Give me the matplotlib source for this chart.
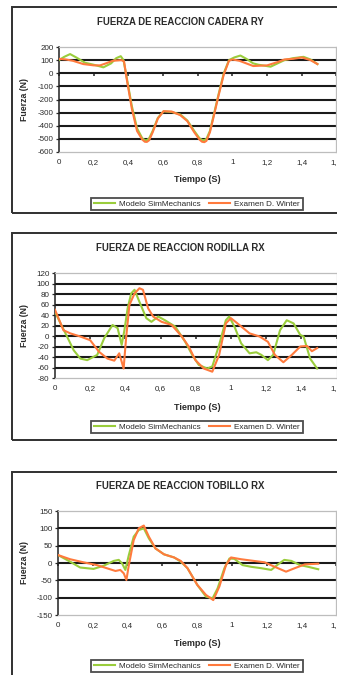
import matplotlib
matplotlib.use("Agg")
import matplotlib.pyplot as plt
from matplotlib.patches import Rectangle

plt.rcParams['font.family'] = ['Liberation Sans', 'DejaVu Sans']

W, H = 337, 675

# ---- datos ----
series_names = ["Modelo SimMechanics", "Examen D. Winter"]
tick_labels_x = ["0", "0,2", "0,4", "0,6", "0,8", "1", "1,2", "1,4", "1,6"]

# cadera RY
cad_t_sim = [0, 0.03, 0.064, 0.1, 0.15, 0.2, 0.256, 0.3, 0.33, 0.356, 0.372, 0.39, 0.42, 0.45,
             0.48, 0.495, 0.507, 0.52, 0.54, 0.57, 0.603, 0.65, 0.7, 0.74, 0.78, 0.81, 0.825,
             0.838, 0.85, 0.87, 0.89, 0.92, 0.95, 0.98, 1.01, 1.046, 1.08, 1.12, 1.15, 1.22,
             1.26, 1.3, 1.35, 1.41, 1.45, 1.49]
cad_sim = [100, 125, 146, 120, 80, 65, 45, 75, 115, 130, 100, -30, -250, -420,
           -495, -510, -510, -495, -440, -340, -290, -295, -315, -360, -440, -495, -508,
           -510, -500, -440, -330, -160, 0, 100, 120, 135, 110, 75, 65, 50,
           75, 100, 115, 125, 105, 70]
cad_t_win = [0, 0.04, 0.08, 0.14, 0.2, 0.237, 0.27, 0.31, 0.36, 0.375, 0.39, 0.42, 0.45,
             0.48, 0.495, 0.507, 0.52, 0.54, 0.57, 0.603, 0.65, 0.7, 0.74, 0.78, 0.81, 0.825,
             0.838, 0.85, 0.87, 0.89, 0.92, 0.95, 0.98, 1.0, 1.04, 1.08, 1.12, 1.2, 1.26,
             1.3, 1.35, 1.4, 1.45, 1.49]
cad_win = [110, 105, 95, 70, 60, 60, 75, 95, 100, 90, -40, -270, -440,
           -505, -522, -523, -510, -450, -345, -289, -292, -320, -365, -450, -505, -522,
           -525, -515, -450, -340, -170, -10, 95, 105, 95, 75, 55, 60, 85,
           105, 110, 120, 100, 70]

# rodilla RX
rod_t_sim = [0, 0.03, 0.067, 0.106, 0.144, 0.183, 0.24, 0.28, 0.327, 0.356, 0.379, 0.394,
             0.413, 0.433, 0.452, 0.48, 0.519, 0.548, 0.587, 0.625, 0.683, 0.74, 0.78, 0.817,
             0.865, 0.894, 0.933, 0.971, 0.99, 1.02, 1.058, 1.106, 1.144, 1.173, 1.21, 1.24,
             1.279, 1.317, 1.356, 1.394, 1.413, 1.45, 1.49]
rod_sim = [46, 25, 0, -27, -43, -46, -36, -4, 21, 15, -17, 10,
           53, 81, 88, 65, 34, 27, 37, 30, 18, -11, -36, -55,
           -62, -58, -17, 30, 37, 18, -14, -33, -31, -36, -46, -36,
           11, 30, 24, 2, -1, -43, -62]
rod_t_win = [0, 0.048, 0.087, 0.144, 0.2, 0.25, 0.298, 0.337, 0.365, 0.379, 0.39, 0.404,
             0.423, 0.452, 0.48, 0.5, 0.529, 0.558, 0.606, 0.663, 0.721, 0.76, 0.798, 0.846,
             0.894, 0.933, 0.971, 1.0, 1.048, 1.106, 1.163, 1.21, 1.25, 1.298, 1.346, 1.394,
             1.433, 1.46, 1.49]
rod_win = [50, 11, 5, -1, -8, -30, -43, -47, -33, -49, -62, -4,
           59, 81, 91, 88, 53, 37, 27, 21, -1, -20, -46, -62,
           -68, -36, 24, 34, 21, 5, -1, -11, -36, -50, -36, -20,
           -19, -29, -23]

# tobillo RX
tob_t_sim = [0, 0.069, 0.127, 0.204, 0.262, 0.32, 0.349, 0.368, 0.387, 0.407, 0.435, 0.464,
             0.493, 0.522, 0.56, 0.609, 0.667, 0.705, 0.744, 0.8, 0.85, 0.888, 0.917, 0.956,
             0.985, 1.013, 1.06, 1.11, 1.168, 1.225, 1.264, 1.3, 1.341, 1.39, 1.437, 1.495]
tob_sim = [23, 4, -13, -17, -8, 6, 9, -1, -20, 23, 76, 95,
           100, 71, 42, 25, 16, 4, -15, -63, -97, -102, -73, -15,
           13, 12, -6, -11, -15, -20, -4, 9, 6, -6, -11, -18]
tob_t_win = [0, 0.069, 0.146, 0.223, 0.28, 0.33, 0.358, 0.378, 0.393, 0.407, 0.435, 0.464,
             0.493, 0.522, 0.56, 0.609, 0.667, 0.705, 0.744, 0.8, 0.85, 0.892, 0.927, 0.965,
             0.994, 1.05, 1.11, 1.187, 1.245, 1.31, 1.36, 1.418, 1.495]
tob_win = [23, 11, 2, -6, -15, -23, -20, -30, -49, -6, 66, 100,
           108, 76, 42, 25, 16, 6, -15, -63, -92, -107, -68, -6,
           16, 11, 7, 2, -11, -25, -15, -4, -2]

panels = [
    dict(title="FUERZA DE REACCION CADERA RY", ylabel="Fuerza (N)",
         t1=cad_t_sim, y1=cad_sim, t2=cad_t_win, y2=cad_win,
         yticks=list(range(-600, 201, 100)),
         box=(12, 7, 206), ax_px=(59, 47, 152), title_y=22, xl_y=180, leg_y=204),
    dict(title="FUERZA DE REACCION RODILLA RX", ylabel="Fuerza (N)",
         t1=rod_t_sim, y1=rod_sim, t2=rod_t_win, y2=rod_win,
         yticks=list(range(-80, 121, 20)),
         box=(12, 233, 207), ax_px=(55, 273, 378), title_y=248, xl_y=407, leg_y=427),
    dict(title="FUERZA DE REACCION TOBILLO RX", ylabel="Fuerza (N)",
         t1=tob_t_sim, y1=tob_sim, t2=tob_t_win, y2=tob_win,
         yticks=list(range(-150, 151, 50)),
         box=(12, 472, 230), ax_px=(58, 511, 615), title_y=486, xl_y=643, leg_y=666),
]

green = "#9acd3c"
orange = "#ff7a3d"
dark = "#2a2a2a"

fig = plt.figure(figsize=(W / 100, H / 100), dpi=100)

for p in panels:
    bx, by, bh = p['box']
    fig.patches.append(Rectangle((bx / W, 1 - (by + bh) / H), 1.2, bh / H,
                                 transform=fig.transFigure, fill=False,
                                 edgecolor="#303030", linewidth=1.4))

    left, top, bottom = p['ax_px']
    right = 336.5
    ax = fig.add_axes([left / W, 1 - bottom / H, (right - left) / W, (bottom - top) / H])
    ax.set_xlim(0, 1.6)
    ax.set_ylim(min(p['yticks']), max(p['yticks']))

    for yv in p['yticks'][1:-1]:
        ax.axhline(yv, color="#1a1a1a", linewidth=1.5, zorder=1)

    ax.plot(p['t1'], p['y1'], color=green, linewidth=1.5, label=series_names[0], zorder=3)
    ax.plot(p['t2'], p['y2'], color=orange, linewidth=1.5, label=series_names[1], zorder=3)

    for s in ['top', 'right', 'bottom']:
        ax.spines[s].set_color("#bdbdbd")
        ax.spines[s].set_linewidth(0.9)
    ax.spines['left'].set_color("#202020")
    ax.spines['left'].set_linewidth(1.1)

    ax.set_yticks(p['yticks'])
    ax.set_yticklabels([str(v) for v in p['yticks']])
    ax.tick_params(axis='y', length=2.5, width=0.9, pad=1.5, labelsize=5.8, colors=dark)
    ax.set_xticks([0.2 * i for i in range(9)])
    ax.set_xticklabels(tick_labels_x)
    ax.tick_params(axis='x', length=0, pad=5, labelsize=5.8, colors=dark)

    # eje x cruzando en 0 (marcas pequenas)
    sec = ax.secondary_xaxis(0, transform=ax.transData)
    sec.set_xticks([0.2 * i for i in range(9)])
    sec.set_xticklabels([])
    sec.tick_params(length=2.5, width=1.1, colors="#202020")
    sec.spines['bottom'].set_visible(False)

    fig.text(180 / W, 1 - p['title_y'] / H, p['title'], ha='center', va='center',
             fontsize=6.9, fontweight='bold', color=dark)
    fig.text(197 / W, 1 - p['xl_y'] / H, "Tiempo (S)", ha='center', va='center',
             fontsize=6.5, fontweight='bold', color=dark)
    fig.text(25 / W, 1 - ((top + bottom) / 2) / H, p['ylabel'], ha='center', va='center',
             rotation=90, fontsize=6.3, fontweight='bold', color=dark)

    leg = fig.legend(handles=ax.get_lines()[-2:], labels=series_names, ncol=2,
                     loc='center', bbox_to_anchor=(197 / W, 1 - p['leg_y'] / H),
                     fontsize=5.9, frameon=True, fancybox=False, handlelength=2.6,
                     handletextpad=0.5, columnspacing=1.0, borderpad=0.3)
    leg.get_frame().set_edgecolor("#202020")
    leg.get_frame().set_linewidth(1.3)
    for txt in leg.get_texts():
        txt.set_color(dark)

fig.savefig("out.png", dpi=100)
